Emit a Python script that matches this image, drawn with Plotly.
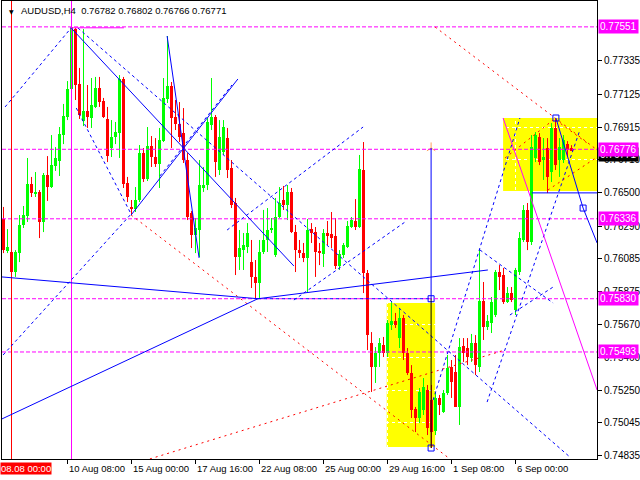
import plotly.graph_objects as go

# ---------------- data (H4 bars, index 0 = 08.08 00:00) ----------------
bar_index = list(range(-2, 141))

open_p = [0.76335, 0.76132, 0.76126, 0.75999, 0.76119, 0.76297, 0.76354, 0.76556, 0.76493, 0.76506,
          0.76316, 0.76613, 0.76537, 0.76670, 0.76702, 0.76866, 0.76980, 0.77158, 0.77537, 0.77189,
          0.76955, 0.77018, 0.76974, 0.77044, 0.77164, 0.77082, 0.76968, 0.76784, 0.76854, 0.76879,
          0.77221, 0.76563, 0.76411, 0.76398, 0.76455, 0.76752, 0.76588, 0.76797, 0.76727, 0.76683,
          0.76828, 0.77094, 0.77177, 0.76980, 0.76936, 0.76879, 0.76708, 0.76373, 0.76233, 0.76265,
          0.76531, 0.76550, 0.76930, 0.76980, 0.76645, 0.76759, 0.76847, 0.76658, 0.76436, 0.76094,
          0.76138, 0.76157, 0.76062, 0.75968, 0.75930, 0.76126, 0.76202, 0.76265, 0.76107, 0.76347,
          0.76455, 0.76423, 0.76506, 0.76252, 0.76138, 0.76119, 0.76088, 0.76271, 0.76252, 0.76132,
          0.76113, 0.76246, 0.76240, 0.76227, 0.76037, 0.76107, 0.76157, 0.76284, 0.76322, 0.76284,
          0.76645, 0.75993, 0.75550, 0.75398, 0.75486, 0.75537, 0.75486, 0.75664, 0.75689, 0.75581,
          0.75708, 0.75486, 0.75360, 0.75132, 0.75075, 0.75126, 0.75252, 0.75189, 0.74993, 0.75202,
          0.75113, 0.75233, 0.75398, 0.75366, 0.75145, 0.75531, 0.75518, 0.75455, 0.75550, 0.75398,
          0.75816, 0.75651, 0.75676, 0.75727, 0.75999, 0.75980, 0.75809, 0.75866, 0.75759, 0.75999,
          0.76202, 0.76392, 0.76189, 0.76721, 0.76854, 0.76708, 0.76784, 0.76632, 0.76911, 0.76708,
          0.76708, 0.76809, 0.76782]

high_p = [0.76411, 0.76271, 0.76138, 0.76138, 0.76360, 0.76417, 0.76721, 0.76601, 0.76632, 0.76518,
          0.76626, 0.76733, 0.76866, 0.76790, 0.76917, 0.77063, 0.77208, 0.77551, 0.77545, 0.77291,
          0.77537, 0.77183, 0.77227, 0.77234, 0.77234, 0.77101, 0.77044, 0.76961, 0.76949, 0.77246,
          0.77234, 0.76601, 0.76455, 0.76537, 0.76803, 0.76784, 0.76917, 0.76860, 0.76847, 0.76911,
          0.77227, 0.77493, 0.77202, 0.77088, 0.77075, 0.77037, 0.76752, 0.76385, 0.76341, 0.76708,
          0.76664, 0.76974, 0.77227, 0.76993, 0.76961, 0.76961, 0.76911, 0.76708, 0.76468, 0.76265,
          0.76246, 0.76309, 0.76202, 0.76075, 0.76202, 0.76392, 0.76404, 0.76341, 0.76468, 0.76537,
          0.76544, 0.76550, 0.76531, 0.76297, 0.76202, 0.76183, 0.76335, 0.76309, 0.76284, 0.76183,
          0.76271, 0.76322, 0.76379, 0.76341, 0.76138, 0.76183, 0.76322, 0.76347, 0.76461, 0.76740,
          0.76822, 0.76012, 0.75619, 0.75524, 0.75581, 0.75588, 0.75695, 0.75809, 0.75740, 0.75771,
          0.75727, 0.75518, 0.75410, 0.75145, 0.75265, 0.75328, 0.75284, 0.75284, 0.75240, 0.75221,
          0.75252, 0.75474, 0.75442, 0.75474, 0.75581, 0.75581, 0.75581, 0.75607, 0.75600, 0.76145,
          0.75936, 0.75727, 0.75841, 0.76012, 0.76043, 0.76025, 0.75904, 0.75904, 0.76025, 0.76252,
          0.76423, 0.76436, 0.76866, 0.76885, 0.76879, 0.76847, 0.76847, 0.76942, 0.76967, 0.76847,
          0.76866, 0.76828, 0.76802]

low_p = [0.76119, 0.76119, 0.75980, 0.75968, 0.76062, 0.76278, 0.76316, 0.76474, 0.76474, 0.76214,
         0.76252, 0.76449, 0.76531, 0.76639, 0.76607, 0.76809, 0.76961, 0.77120, 0.77088, 0.76968,
         0.76923, 0.76911, 0.76911, 0.77037, 0.77044, 0.76974, 0.76695, 0.76727, 0.76809, 0.76721,
         0.76531, 0.76442, 0.76360, 0.76379, 0.76442, 0.76569, 0.76575, 0.76664, 0.76664, 0.76531,
         0.76822, 0.77069, 0.76784, 0.76898, 0.76822, 0.76689, 0.76328, 0.76151, 0.76119, 0.76094,
         0.76506, 0.76518, 0.76898, 0.76601, 0.76613, 0.76740, 0.76594, 0.76404, 0.75980, 0.76012,
         0.76012, 0.76119, 0.75898, 0.75830, 0.75835, 0.76113, 0.76126, 0.76246, 0.76094, 0.76341,
         0.76392, 0.76328, 0.76246, 0.75999, 0.76088, 0.76062, 0.75873, 0.76183, 0.75968, 0.76043,
         0.76031, 0.76170, 0.76151, 0.76018, 0.76012, 0.76088, 0.76151, 0.76278, 0.76265, 0.76278,
         0.75866, 0.75505, 0.75240, 0.75297, 0.75398, 0.75461, 0.75461, 0.75632, 0.75645, 0.75518,
         0.75442, 0.75347, 0.75075, 0.74986, 0.75043, 0.75094, 0.74967, 0.74885, 0.74967, 0.75094,
         0.75107, 0.75221, 0.75202, 0.75145, 0.75031, 0.75430, 0.75410, 0.75430, 0.75347, 0.75366,
         0.75569, 0.75632, 0.75613, 0.75714, 0.75885, 0.75797, 0.75803, 0.75809, 0.75727, 0.75980,
         0.76189, 0.76138, 0.76170, 0.76695, 0.76676, 0.76582, 0.76499, 0.76569, 0.76645, 0.76601,
         0.76689, 0.76727, 0.76766]

close_p = [0.76138, 0.76157, 0.75999, 0.76126, 0.76297, 0.76360, 0.76556, 0.76499, 0.76506, 0.76316,
           0.76613, 0.76537, 0.76676, 0.76721, 0.76873, 0.76987, 0.77158, 0.77550, 0.77183, 0.76993,
           0.77018, 0.76980, 0.77056, 0.77164, 0.77075, 0.76980, 0.76733, 0.76854, 0.76885, 0.77221,
           0.76556, 0.76474, 0.76398, 0.76455, 0.76752, 0.76588, 0.76797, 0.76727, 0.76683, 0.76835,
           0.77101, 0.77177, 0.76974, 0.76936, 0.76854, 0.76708, 0.76347, 0.76233, 0.76278, 0.76550,
           0.76550, 0.76949, 0.76980, 0.76695, 0.76854, 0.76917, 0.76645, 0.76423, 0.76094, 0.76151,
           0.76170, 0.76246, 0.75968, 0.75930, 0.76126, 0.76202, 0.76265, 0.76278, 0.76347, 0.76436,
           0.76423, 0.76506, 0.76252, 0.76138, 0.76119, 0.76088, 0.76265, 0.76246, 0.76126, 0.76119,
           0.76246, 0.76227, 0.76214, 0.76037, 0.76113, 0.76170, 0.76290, 0.76328, 0.76284, 0.76651,
           0.75993, 0.75600, 0.75398, 0.75486, 0.75550, 0.75486, 0.75676, 0.75689, 0.75664, 0.75708,
           0.75486, 0.75360, 0.75126, 0.75075, 0.75240, 0.75271, 0.75012, 0.74986, 0.75202, 0.75157,
           0.75233, 0.75392, 0.75303, 0.75145, 0.75524, 0.75486, 0.75461, 0.75550, 0.75410, 0.75816,
           0.75651, 0.75689, 0.75809, 0.75999, 0.75968, 0.75809, 0.75866, 0.75822, 0.76012, 0.76214,
           0.76392, 0.76189, 0.76790, 0.76866, 0.76695, 0.76727, 0.76601, 0.76911, 0.76676, 0.76790,
           0.76835, 0.76771, 0.76771]

date_tick_bars = [14, 30, 46, 62, 78, 94, 110, 126]
date_tick_text = ["10 Aug 08:00", "15 Aug 00:00", "17 Aug 16:00", "22 Aug 08:00",
                  "25 Aug 00:00", "29 Aug 16:00", "1 Sep 08:00", "6 Sep 00:00"]
price_ticks = [0.77335, 0.77125, 0.76915, 0.76710, 0.76500, 0.76290, 0.76085,
               0.75875, 0.75670, 0.75460, 0.75250, 0.75045, 0.74835]
level_prices = [0.77551, 0.76776, 0.76336, 0.75830, 0.75493]
bid_price = 0.76771
title_text = "AUDUSD,H4  0.76782 0.76802 0.76766 0.76771"
separator_label = "08.08 00:00"

# analysis objects: (bar0, price0, bar1, price1)
blue_solid_lines = [
    (14.9, 0.77544, 70.6, 0.76037), (29.9, 0.76360, 56.6, 0.77221), (38.9, 0.77493, 46.9, 0.76088),
    (-2.4, 0.75968, 61.6, 0.75830), (61.6, 0.75830, 119.1, 0.76012), (-2.4, 0.75069, 61.6, 0.75830),
    (104.9, 0.76784, 104.9, 0.75830), (130.1, 0.76500, 146.4, 0.76500),
    (136.1, 0.76974, 142.9, 0.76404), (142.9, 0.76404, 146.4, 0.76183),
]
black_solid_lines = [(104.9, 0.75830, 104.9, 0.74885)]
blue_dashed_lines = [
    (-1.6, 0.77044, 14.9, 0.77544), (16.6, 0.77544, 139.6, 0.74828), (16.2, 0.77037, 29.9, 0.76366),
    (-2.1, 0.75474, 29.9, 0.76366), (37.1, 0.76607, 55.1, 0.77183), (61.6, 0.75830, 104.9, 0.75830),
    (53.9, 0.76265, 87.9, 0.76917), (70.6, 0.75822, 98.4, 0.76316), (105.4, 0.75189, 127.1, 0.76974),
    (118.9, 0.75176, 142.1, 0.76898), (117.1, 0.76139, 135.4, 0.75803), (124.6, 0.75727, 135.4, 0.75904),
]
red_dotted_lines = [
    (29.9, 0.76360, 109.6, 0.74816), (34.6, 0.74816, 123.4, 0.75506), (105.9, 0.77550, 146.4, 0.76772),
    (123.4, 0.76721, 135.4, 0.76961), (134.1, 0.76518, 146.4, 0.76727), (136.1, 0.76961, 144.6, 0.76803),
]
magenta_solid_lines = [(122.9, 0.76974, 146.4, 0.75252), (14.6, 0.77545, 28.1, 0.77545)]
yellow_boxes = [(93.8, 0.75803, 105.9, 0.74891), (122.9, 0.76974, 146.4, 0.76512)]
red_vline_bar = 0
magenta_vline_bar = 15
square_points_bar = [104.9, 104.9, 136.1, 142.9]
square_points_price = [0.75830, 0.74885, 0.76974, 0.76404]
arrow_point = (104.9, 0.76784)

# ---------------- styling ----------------
GREEN, RED, BLUE, MAGENTA, YELLOW = "#00FF00", "#FF0000", "#0000FF", "#FF00FF", "#FFFF00"
FONT = "Liberation Sans, Arial, sans-serif"
X_RANGE = [-2.375, 146.375]
Y_RANGE = [0.748155, 0.777147]

colors = [GREEN if c >= o else RED for o, c in zip(open_p, close_p)]

fig = go.Figure()

for col in (GREEN, RED):
    xs, ys = [], []
    for i, h, l, k in zip(bar_index, high_p, low_p, colors):
        if k == col:
            xs += [i, i, None]
            ys += [l, h, None]
    fig.add_trace(go.Scatter(x=xs, y=ys, mode="lines", line=dict(color=col, width=1),
                             hoverinfo="skip", showlegend=False))

fig.add_trace(go.Bar(
    x=bar_index,
    y=[max(abs(c - o), 0.00003) for o, c in zip(open_p, close_p)],
    base=[min(o, c) for o, c in zip(open_p, close_p)],
    width=0.75, marker=dict(color=colors, line=dict(width=0)),
    hoverinfo="skip", showlegend=False))

fig.add_trace(go.Scatter(x=square_points_bar, y=square_points_price, mode="markers",
                         marker=dict(symbol="square-open", size=6, color=BLUE, line=dict(width=1, color=BLUE)),
                         hoverinfo="skip", showlegend=False))
fig.add_trace(go.Scatter(x=[arrow_point[0]], y=[arrow_point[1]], mode="markers",
                         marker=dict(symbol="y-up-open", size=7, line=dict(width=1, color=BLUE)),
                         hoverinfo="skip", showlegend=False))

shapes = []
for b0, p0, b1, p1 in yellow_boxes:
    shapes.append(dict(type="rect", xref="x", yref="y", x0=b0, x1=b1, y0=p0, y1=p1,
                       fillcolor=YELLOW, line=dict(width=0), layer="below"))
shapes.append(dict(type="line", xref="paper", yref="y", x0=0, x1=1, y0=bid_price, y1=bid_price,
                   line=dict(color="white", width=1), layer="between"))
for lv in level_prices:
    shapes.append(dict(type="line", xref="paper", yref="y", x0=0, x1=1, y0=lv, y1=lv,
                       line=dict(color=MAGENTA, width=1, dash="4px,2px"), layer="above"))
shapes.append(dict(type="line", xref="x", yref="paper", x0=red_vline_bar, x1=red_vline_bar, y0=0, y1=1,
                   line=dict(color=RED, width=1), layer="above"))
shapes.append(dict(type="line", xref="x", yref="paper", x0=magenta_vline_bar, x1=magenta_vline_bar, y0=0, y1=1,
                   line=dict(color=MAGENTA, width=1), layer="above"))

def add_lines(lines, color, dash):
    for b0, p0, b1, p1 in lines:
        shapes.append(dict(type="line", xref="x", yref="y", x0=b0, y0=p0, x1=b1, y1=p1,
                           line=dict(color=color, width=1, dash=dash), layer="above"))

add_lines(blue_dashed_lines, BLUE, "3px,3px")
add_lines(red_dotted_lines, RED, "2px,4px")
add_lines(blue_solid_lines, BLUE, "solid")
add_lines(black_solid_lines, "black", "solid")
add_lines(magenta_solid_lines, MAGENTA, "solid")

annotations = []
for b, t in zip(date_tick_bars, date_tick_text):
    annotations.append(dict(x=b, y=0, xref="x", yref="paper", text=t, showarrow=False,
                            xanchor="left", yanchor="top", yshift=-2, xshift=-1,
                            font=dict(family=FONT, size=9.5, color="black")))
annotations.append(dict(x=-0.0034, y=0, xref="paper", yref="paper", text=separator_label, showarrow=False,
                        xanchor="left", yanchor="top", yshift=-3, bgcolor=RED, borderpad=0,
                        font=dict(family=FONT, size=9.5, color="white")))
annotations.append(dict(x=1, y=bid_price, xref="paper", yref="y", text=f"{bid_price:.5f}", showarrow=False,
                        xanchor="left", yanchor="middle", xshift=1, yshift=-4, bgcolor="black", borderpad=1,
                        font=dict(family=FONT, size=10, color="white")))
for lv in level_prices:
    annotations.append(dict(x=1, y=lv, xref="paper", yref="y", text=f"{lv:.5f}", showarrow=False,
                            xanchor="left", yanchor="middle", xshift=1, bgcolor=MAGENTA, borderpad=1,
                            font=dict(family=FONT, size=10, color="white")))
annotations.append(dict(x=0.0285, y=0.9795, xref="paper", yref="paper", text=title_text, showarrow=False,
                        xanchor="left", yanchor="middle",
                        font=dict(family=FONT, size=9.5, color="black")))
annotations.append(dict(x=0.0085, y=0.978, xref="paper", yref="paper", text="▼", showarrow=False,
                        xanchor="left", yanchor="middle",
                        font=dict(family="DejaVu Sans", size=6, color="black")))

fig.update_layout(
    width=640, height=480,
    margin=dict(l=2, r=43, t=1, b=21, autoexpand=False),
    paper_bgcolor="white", plot_bgcolor="white",
    showlegend=False, bargap=0,
    shapes=shapes, annotations=annotations,
    xaxis=dict(range=X_RANGE, tickvals=date_tick_bars, showticklabels=False, ticks="outside",
               ticklen=4, tickcolor="black", showline=True, linecolor="black", linewidth=1, mirror=True,
               showgrid=True, gridcolor="white", griddash="3px,3px", gridwidth=1, zeroline=False,
               automargin=False, fixedrange=True),
    yaxis=dict(range=Y_RANGE, side="right", tickvals=price_ticks,
               ticktext=[f"{p:.5f}" for p in price_ticks], ticks="outside", ticklen=4,
               tickcolor="black", tickfont=dict(family=FONT, size=10, color="black"),
               showline=True, linecolor="black", linewidth=1, mirror=True,
               showgrid=True, gridcolor="white", griddash="3px,3px", gridwidth=1, zeroline=False,
               automargin=False, fixedrange=True),
)

fig.write_html("out.html", config={"displayModeBar": False},
               post_script="document.body.style.margin='0';document.body.style.overflow='hidden';")
